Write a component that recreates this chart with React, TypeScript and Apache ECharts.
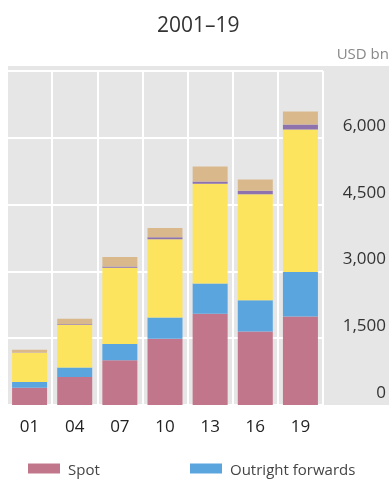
import React, { useEffect, useRef } from "react";
import * as echarts from "echarts";

const categories = ["01", "04", "07", "10", "13", "16", "19"];
const spot = [386, 631, 1005, 1489, 2047, 1652, 1987];
const outrightForwards = [130, 209, 362, 475, 679, 700, 999];
const fxSwaps = [656, 954, 1714, 1759, 2240, 2378, 3202];
const currencySwaps = [7, 21, 31, 43, 54, 82, 108];
const options = [60, 119, 212, 207, 337, 254, 294];

const FONT = "'Open Sans', 'Noto Sans', sans-serif";

export default function App() {
  const ref = useRef<HTMLDivElement>(null);
  useEffect(() => {
    if (!ref.current) return;
    const chart = echarts.init(ref.current, undefined, { renderer: "svg" });
    const mk = (name: string, data: number[], color: string) => ({
      name,
      type: "bar",
      stack: "total",
      data,
      barWidth: 35,
      itemStyle: { color },
      emphasis: { disabled: true },
    });
    const legendText = { fontSize: 15, color: "#444", padding: [0, 0, 0, 3], fontFamily: FONT };
    chart.setOption({
      animation: false,
      textStyle: { fontFamily: FONT },
      title: [
        {
          text: "2001–19",
          left: 157,
          top: 13,
          padding: 0,
          textStyle: { fontSize: 21, fontWeight: "normal", color: "#333", fontFamily: FONT },
        },
        {
          text: "USD bn",
          right: 0,
          top: 45,
          padding: 0,
          textStyle: { fontSize: 15, fontWeight: "normal", color: "#888", fontFamily: FONT },
        },
      ],
      graphic: [
        {
          type: "rect",
          z: -10,
          shape: { x: 8, y: 66, width: 381, height: 339 },
          style: { fill: "#e6e6e6" },
          silent: true,
        },
      ],
      legend: [
        {
          data: ["Spot"],
          left: 28,
          top: 461,
          padding: 0,
          itemWidth: 32,
          itemHeight: 10,
          icon: "rect",
          textStyle: legendText,
        },
        {
          data: ["Outright forwards"],
          left: 190,
          top: 461,
          padding: 0,
          itemWidth: 32,
          itemHeight: 10,
          icon: "rect",
          textStyle: legendText,
        },
      ],
      grid: { left: 7, right: 64, top: 71, bottom: 95, containLabel: false },
      xAxis: {
        type: "category",
        data: categories,
        axisLine: { show: false },
        axisTick: { show: false },
        splitLine: { show: true, interval: 0, lineStyle: { color: "#ffffff", width: 2 } },
        axisLabel: { fontSize: 17, color: "#222", margin: 12, fontFamily: FONT },
      },
      yAxis: {
        type: "value",
        position: "right",
        min: 0,
        max: 7500,
        interval: 1500,
        axisLine: { show: false },
        axisTick: { show: false },
        splitLine: { show: true, lineStyle: { color: "#ffffff", width: 2 } },
        axisLabel: {
          showMaxLabel: false,
          fontSize: 17,
          color: "#333",
          align: "right",
          margin: 63,
          verticalAlign: "bottom",
          padding: [0, 0, 5, 0],
          fontFamily: FONT,
          formatter: (v: number) => v.toLocaleString("en-US"),
        },
      },
      series: [
        mk("Spot", spot, "#c2768b"),
        mk("Outright forwards", outrightForwards, "#5ba5df"),
        mk("FX swaps", fxSwaps, "#fde45e"),
        mk("Currency swaps", currencySwaps, "#8d72ae"),
        mk("Options", options, "#d9b98b"),
      ],
    });
    return () => chart.dispose();
  }, []);
  return (
    <div
      ref={ref}
      style={{ position: "fixed", left: 0, top: 0, width: 389, height: 500 }}
    />
  );
}
